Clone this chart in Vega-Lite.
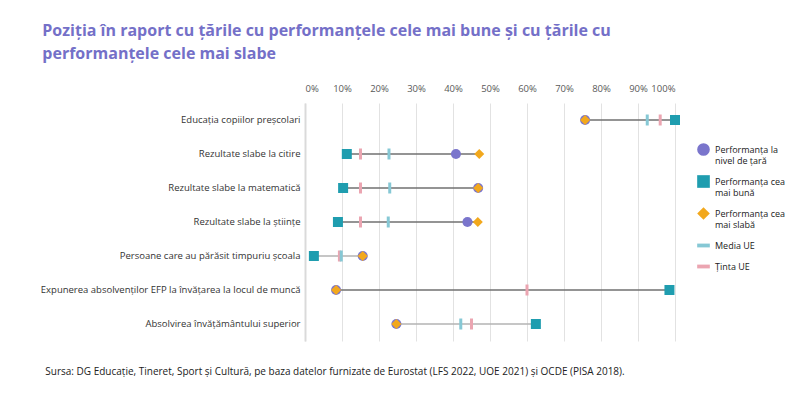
{
  "$schema": "https://vega.github.io/schema/vega-lite/v6.json",
  "padding": {"left": 40, "top": 23, "right": 0, "bottom": 0},
  "background": "white",
  "title": {
    "text": ["Poziția în raport cu țările cu performanțele cele mai bune și cu țările cu", "performanțele cele mai slabe"],
    "anchor": "start",
    "frame": "bounds",
    "font": "Open Sans",
    "fontSize": 16,
    "fontWeight": "bold",
    "color": "#7470C8",
    "lineHeight": 23,
    "offset": 21,
    "dx": 2
  },
  "config": {
    "view": {"stroke": null},
    "font": "Open Sans",
    "axisX": {
      "orient": "top",
      "title": null,
      "format": "~%",
      "values": [0, 0.1, 0.2, 0.3, 0.4, 0.5, 0.6, 0.7, 0.8, 0.9, 1],
      "labelOverlap": false,
      "domain": false,
      "ticks": false,
      "grid": true,
      "gridColor": "#e2e2e2",
      "gridWidth": 1,
      "labelFont": "Open Sans",
      "labelFontSize": 9.5,
      "labelColor": "#555555",
      "labelPadding": 10
    }
  },
  "data": {
    "values": [
      {"indicator": "Educația copiilor preșcolari", "series": "Media UE", "value": 0.925},
      {"indicator": "Educația copiilor preșcolari", "series": "Ținta UE", "value": 0.96},
      {"indicator": "Educația copiilor preșcolari", "series": "Performanța cea mai bună", "value": 1.0},
      {"indicator": "Educația copiilor preșcolari", "series": "Performanța la nivel de țară", "value": 0.757},
      {"indicator": "Educația copiilor preșcolari", "series": "Performanța cea mai slabă", "value": 0.757},
      {"indicator": "Rezultate slabe la citire", "series": "Media UE", "value": 0.227},
      {"indicator": "Rezultate slabe la citire", "series": "Ținta UE", "value": 0.15},
      {"indicator": "Rezultate slabe la citire", "series": "Performanța cea mai bună", "value": 0.113},
      {"indicator": "Rezultate slabe la citire", "series": "Performanța la nivel de țară", "value": 0.408},
      {"indicator": "Rezultate slabe la citire", "series": "Performanța cea mai slabă", "value": 0.471},
      {"indicator": "Rezultate slabe la matematică", "series": "Media UE", "value": 0.229},
      {"indicator": "Rezultate slabe la matematică", "series": "Ținta UE", "value": 0.15},
      {"indicator": "Rezultate slabe la matematică", "series": "Performanța cea mai bună", "value": 0.103},
      {"indicator": "Rezultate slabe la matematică", "series": "Performanța la nivel de țară", "value": 0.468},
      {"indicator": "Rezultate slabe la matematică", "series": "Performanța cea mai slabă", "value": 0.468},
      {"indicator": "Rezultate slabe la științe", "series": "Media UE", "value": 0.225},
      {"indicator": "Rezultate slabe la științe", "series": "Ținta UE", "value": 0.15},
      {"indicator": "Rezultate slabe la științe", "series": "Performanța cea mai bună", "value": 0.089},
      {"indicator": "Rezultate slabe la științe", "series": "Performanța la nivel de țară", "value": 0.439},
      {"indicator": "Rezultate slabe la științe", "series": "Performanța cea mai slabă", "value": 0.467},
      {"indicator": "Persoane care au părăsit timpuriu școala", "series": "Ținta UE", "value": 0.093},
      {"indicator": "Persoane care au părăsit timpuriu școala", "series": "Media UE", "value": 0.098},
      {"indicator": "Persoane care au părăsit timpuriu școala", "series": "Performanța cea mai bună", "value": 0.024},
      {"indicator": "Persoane care au părăsit timpuriu școala", "series": "Performanța la nivel de țară", "value": 0.156},
      {"indicator": "Persoane care au părăsit timpuriu școala", "series": "Performanța cea mai slabă", "value": 0.156},
      {"indicator": "Expunerea absolvenților EFP la învățarea la locul de muncă", "series": "Ținta UE", "value": 0.60},
      {"indicator": "Expunerea absolvenților EFP la învățarea la locul de muncă", "series": "Performanța cea mai bună", "value": 0.985},
      {"indicator": "Expunerea absolvenților EFP la învățarea la locul de muncă", "series": "Performanța la nivel de țară", "value": 0.084},
      {"indicator": "Expunerea absolvenților EFP la învățarea la locul de muncă", "series": "Performanța cea mai slabă", "value": 0.084},
      {"indicator": "Absolvirea învățământului superior", "series": "Media UE", "value": 0.421},
      {"indicator": "Absolvirea învățământului superior", "series": "Ținta UE", "value": 0.45},
      {"indicator": "Absolvirea învățământului superior", "series": "Performanța cea mai bună", "value": 0.624},
      {"indicator": "Absolvirea învățământului superior", "series": "Performanța la nivel de țară", "value": 0.247},
      {"indicator": "Absolvirea învățământului superior", "series": "Performanța cea mai slabă", "value": 0.247}
    ]
  },
  "vconcat": [
    {
      "width": 370,
      "height": 238,
      "title": {
        "text": "Sursa: DG Educație, Tineret, Sport și Cultură, pe baza datelor furnizate de Eurostat (LFS 2022, UOE 2021) și OCDE (PISA 2018).",
        "orient": "bottom",
        "anchor": "start",
        "frame": "bounds",
        "font": "Open Sans",
        "fontSize": 10,
        "fontWeight": "normal",
        "color": "#222222",
        "offset": 26,
        "dx": 5
      },
      "encoding": {
        "y": {
          "field": "indicator",
          "type": "nominal",
          "sort": [
            "Educația copiilor preșcolari",
            "Rezultate slabe la citire",
            "Rezultate slabe la matematică",
            "Rezultate slabe la științe",
            "Persoane care au părăsit timpuriu școala",
            "Expunerea absolvenților EFP la învățarea la locul de muncă",
            "Absolvirea învățământului superior"
          ],
          "scale": {"paddingInner": 0, "paddingOuter": 0},
          "axis": {
            "title": null,
            "ticks": false,
            "domain": true,
            "domainColor": "#dadada",
            "domainWidth": 2,
            "grid": false,
            "labelFont": "Open Sans",
            "labelFontSize": 9.5,
            "labelColor": "#333333",
            "labelPadding": 5,
            "labelLimit": 0
          }
        }
      },
      "layer": [
        {
          "mark": {"type": "rule", "strokeWidth": 1.5},
          "encoding": {
            "x": {
              "aggregate": "min",
              "field": "value",
              "type": "quantitative",
              "scale": {"domain": [0, 1], "nice": false},
              "axis": {"labelColor": "#595959"}
            },
            "x2": {"aggregate": "max", "field": "value"},
            "color": {
              "condition": {
                "test": "datum.indicator === 'Persoane care au părăsit timpuriu școala' || datum.indicator === 'Absolvirea învățământului superior'",
                "value": "#b3b3b3"
              },
              "value": "#707070"
            }
          }
        },
        {
          "transform": [{"filter": {"field": "series", "oneOf": ["Media UE", "Ținta UE"]}}],
          "mark": {"type": "tick", "thickness": 3, "size": 11, "opacity": 1},
          "encoding": {
            "x": {"field": "value", "type": "quantitative"},
            "color": {
              "field": "series",
              "type": "nominal",
              "scale": {
                "domain": ["Performanța la nivel de țară", "Performanța cea mai bună", "Performanța cea mai slabă", "Media UE", "Ținta UE"],
                "range": ["#7A75CC", "#1F9DAF", "#F2A81D", "#86C8D5", "#EBA5B1"]
              }
            }
          }
        },
        {
          "transform": [{"filter": {"field": "series", "oneOf": ["Performanța la nivel de țară", "Performanța cea mai bună", "Performanța cea mai slabă"]}}],
          "mark": {"type": "point", "filled": true, "opacity": 1, "size": 100},
          "encoding": {
            "x": {"field": "value", "type": "quantitative"},
            "color": {
              "field": "series",
              "type": "nominal",
              "legend": {
                "title": null,
                "orient": "none",
                "legendX": 392,
                "legendY": 40,
                "symbolSize": 160,
                "symbolStrokeWidth": 0,
                "labelFont": "Open Sans",
                "labelFontSize": 9,
                "labelColor": "#222222",
                "labelLimit": 0,
                "labelOffset": 5,
                "rowPadding": 9,
                "labelExpr": "split(replace(replace(datum.label, 'la nivel', 'la|nivel'), 'cea mai', 'cea|mai'), '|')",
                "encode": {"labels": {"update": {"lineHeight": {"value": 12.5}}}}
              }
            },
            "shape": {
              "field": "series",
              "type": "nominal",
              "scale": {
                "domain": ["Performanța la nivel de țară", "Performanța cea mai bună", "Performanța cea mai slabă", "Media UE", "Ținta UE"],
                "range": ["circle", "square", "diamond", "M-1,-0.3H1V0.3H-1Z", "M-1,-0.3H1V0.3H-1Z"]
              }
            }
          }
        }
      ]
    }
  ]
}
